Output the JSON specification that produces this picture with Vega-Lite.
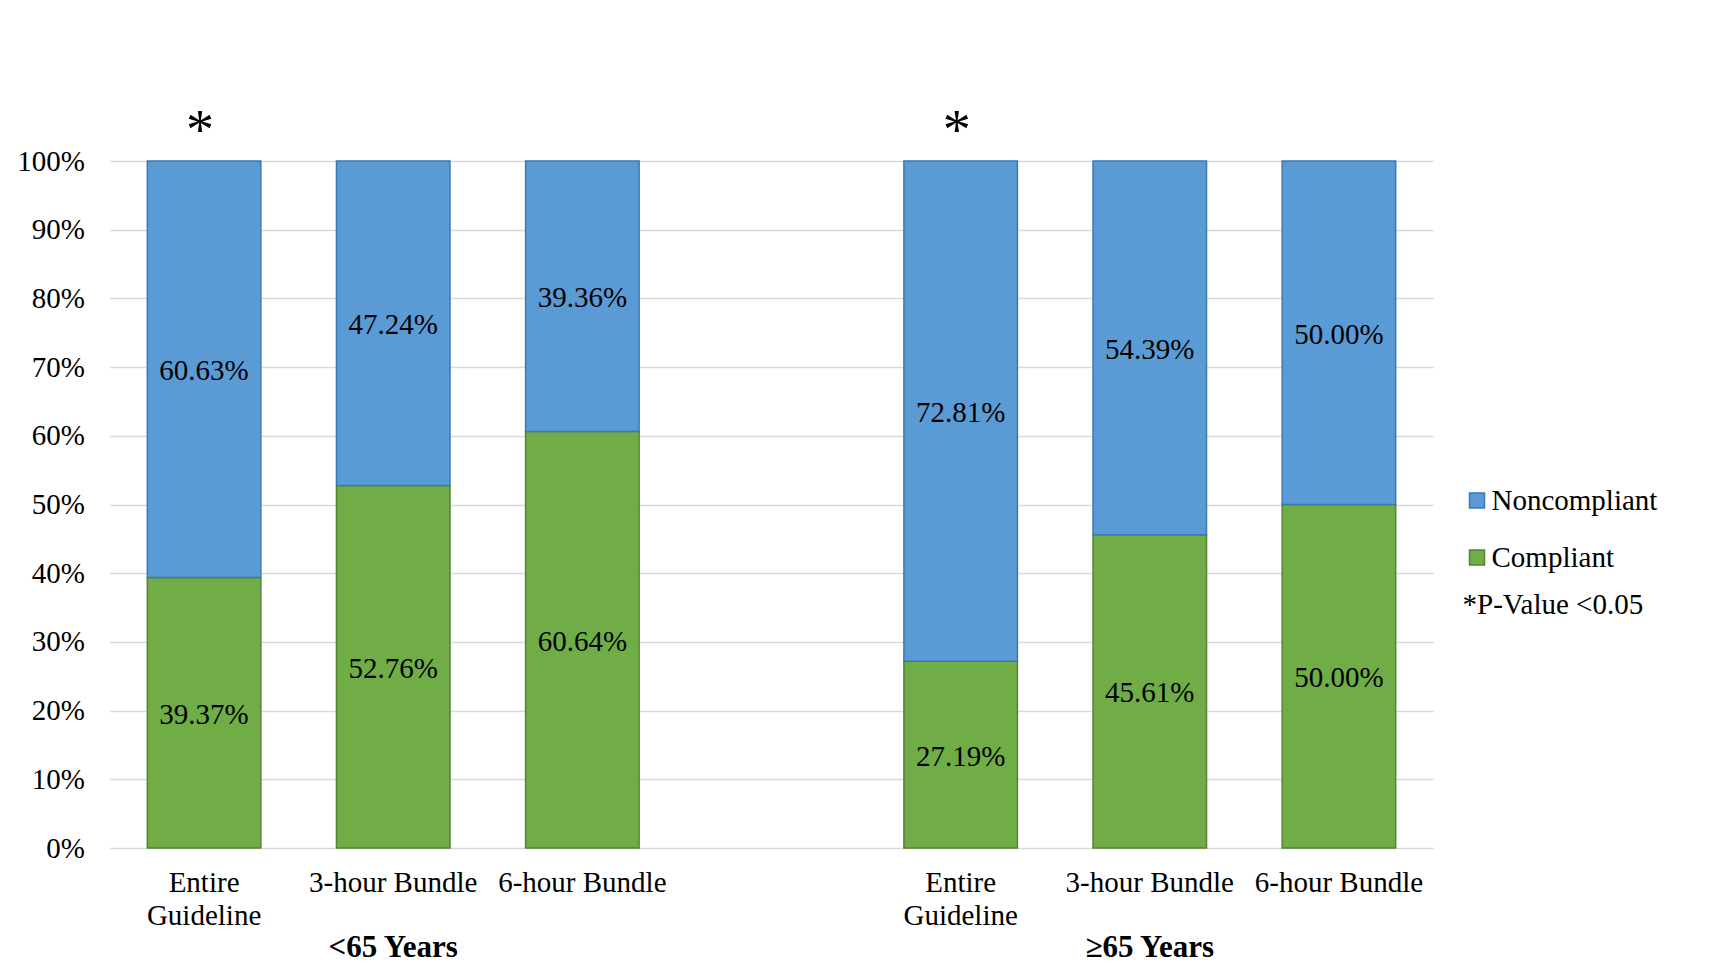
{
  "$schema": "https://vega.github.io/schema/vega-lite/v6.json",
  "width": 1324,
  "height": 687,
  "autosize": {"type": "none"},
  "padding": {"left": 109.5, "top": 161, "right": 282.5, "bottom": 126},
  "background": "white",
  "config": {
    "font": "Liberation Serif",
    "view": {"stroke": null},
    "axis": {"labelFont": "Liberation Serif", "titleFont": "Liberation Serif"},
    "legend": {"labelFont": "Liberation Serif", "titleFont": "Liberation Serif"},
    "text": {"font": "Liberation Serif", "color": "black"}
  },
  "datasets": {
    "bars": [
      {"key": "<65 Years|Entire|Guideline", "status": "Compliant", "value": 0.3937},
      {"key": "<65 Years|Entire|Guideline", "status": "Noncompliant", "value": 0.6063},
      {"key": "<65 Years|3-hour Bundle", "status": "Compliant", "value": 0.5276},
      {"key": "<65 Years|3-hour Bundle", "status": "Noncompliant", "value": 0.4724},
      {"key": "<65 Years|6-hour Bundle", "status": "Compliant", "value": 0.6064},
      {"key": "<65 Years|6-hour Bundle", "status": "Noncompliant", "value": 0.3936},
      {"key": "≥65 Years|Entire|Guideline", "status": "Compliant", "value": 0.2719},
      {"key": "≥65 Years|Entire|Guideline", "status": "Noncompliant", "value": 0.7281},
      {"key": "≥65 Years|3-hour Bundle", "status": "Compliant", "value": 0.4561},
      {"key": "≥65 Years|3-hour Bundle", "status": "Noncompliant", "value": 0.5439},
      {"key": "≥65 Years|6-hour Bundle", "status": "Compliant", "value": 0.5},
      {"key": "≥65 Years|6-hour Bundle", "status": "Noncompliant", "value": 0.5}
    ],
    "stars": [
      {"key": "<65 Years|Entire|Guideline", "mark": "*"},
      {"key": "≥65 Years|Entire|Guideline", "mark": "*"}
    ],
    "groups": [
      {"key": "<65 Years|3-hour Bundle", "group": "<65 Years"},
      {"key": "≥65 Years|3-hour Bundle", "group": "≥65 Years"}
    ]
  },
  "encoding": {
    "x": {
      "field": "key",
      "type": "nominal",
      "sort": null,
      "scale": {
        "domain": ["<65 Years|Entire|Guideline", "<65 Years|3-hour Bundle", "<65 Years|6-hour Bundle", "gap|", "≥65 Years|Entire|Guideline", "≥65 Years|3-hour Bundle", "≥65 Years|6-hour Bundle"],
        "paddingInner": 0.4,
        "paddingOuter": 0.2
      },
      "axis": {
        "title": null,
        "labelAngle": 0,
        "domain": false,
        "ticks": false,
        "grid": false,
        "labelExpr": "slice(split(datum.value, '|'), 1)",
        "labelFont": "Liberation Serif",
        "labelFontSize": 29,
        "labelLineHeight": 33,
        "labelColor": "black",
        "labelPadding": 20,
        "labelBaseline": "top",
        "labelLimit": 0
      }
    }
  },
  "layer": [
    {
      "data": {"name": "bars"},
      "transform": [
        {"stack": "value", "groupby": ["key"], "sort": [{"field": "status", "order": "ascending"}], "as": ["y0", "y1"]}
      ],
      "mark": {"type": "bar", "strokeWidth": 1.5},
      "encoding": {
        "y": {
          "field": "y0",
          "type": "quantitative",
          "scale": {"domain": [0, 1], "nice": false},
          "axis": {
            "title": null,
            "values": [0, 0.1, 0.2, 0.3, 0.4, 0.5, 0.6, 0.7, 0.8, 0.9, 1],
            "format": ".0%",
            "domain": false,
            "ticks": false,
            "grid": true,
            "gridColor": "#D9D9D9",
            "gridWidth": 1.5,
            "labelFont": "Liberation Serif",
            "labelFontSize": 29,
            "labelColor": "black",
            "labelPadding": 25
          }
        },
        "y2": {"field": "y1"},
        "color": {
          "field": "status",
          "type": "nominal",
          "scale": {"domain": ["Noncompliant", "Compliant"], "range": ["#5B9BD5", "#70AD47"]},
          "legend": {
            "title": "*P-Value <0.05",
            "titleOrient": "bottom",
            "titleAnchor": "start",
            "titleFont": "Liberation Serif",
            "titleFontWeight": "normal",
            "titleFontSize": 29,
            "titleColor": "black",
            "titlePadding": 18,
            "titleLimit": 0,
            "orient": "none",
            "legendX": 1353,
            "legendY": 325,
            "symbolType": "square",
            "symbolSize": 225,
            "symbolStrokeWidth": 1.5,
            "labelFont": "Liberation Serif",
            "labelFontSize": 29,
            "labelColor": "black",
            "labelOffset": 0,
            "labelLimit": 0,
            "rowPadding": 27
          }
        },
        "stroke": {
          "field": "status",
          "type": "nominal",
          "scale": {"domain": ["Noncompliant", "Compliant"], "range": ["#3A78B5", "#548235"]},
          "legend": {
            "title": "*P-Value <0.05",
            "titleOrient": "bottom",
            "titleAnchor": "start",
            "titleFont": "Liberation Serif",
            "titleFontWeight": "normal",
            "titleFontSize": 29,
            "titleColor": "black",
            "titlePadding": 18,
            "titleLimit": 0,
            "orient": "none",
            "legendX": 1353,
            "legendY": 325,
            "symbolType": "square",
            "symbolSize": 225,
            "symbolStrokeWidth": 1.5,
            "labelFont": "Liberation Serif",
            "labelFontSize": 29,
            "labelColor": "black",
            "labelOffset": 0,
            "labelLimit": 0,
            "rowPadding": 27
          }
        }
      }
    },
    {
      "data": {"name": "bars"},
      "transform": [
        {"stack": "value", "groupby": ["key"], "sort": [{"field": "status", "order": "ascending"}], "as": ["y0", "y1"]},
        {"calculate": "(datum.y0 + datum.y1) / 2", "as": "labelPos"}
      ],
      "mark": {"type": "text", "fontSize": 29, "baseline": "middle", "align": "center", "dy": 2},
      "encoding": {
        "y": {"field": "labelPos", "type": "quantitative"},
        "text": {"field": "value", "type": "quantitative", "format": ".2%"}
      }
    },
    {
      "data": {"name": "stars"},
      "mark": {"type": "text", "fontSize": 56, "baseline": "alphabetic", "align": "center", "dy": -12, "dx": -4},
      "encoding": {
        "y": {"datum": 1, "type": "quantitative"},
        "text": {"field": "mark"}
      }
    },
    {
      "data": {"name": "groups"},
      "mark": {"type": "text", "fontSize": 31, "fontWeight": "bold", "baseline": "middle", "align": "center", "dy": 100},
      "encoding": {
        "y": {"datum": 0, "type": "quantitative"},
        "text": {"field": "group"}
      }
    }
  ]
}
